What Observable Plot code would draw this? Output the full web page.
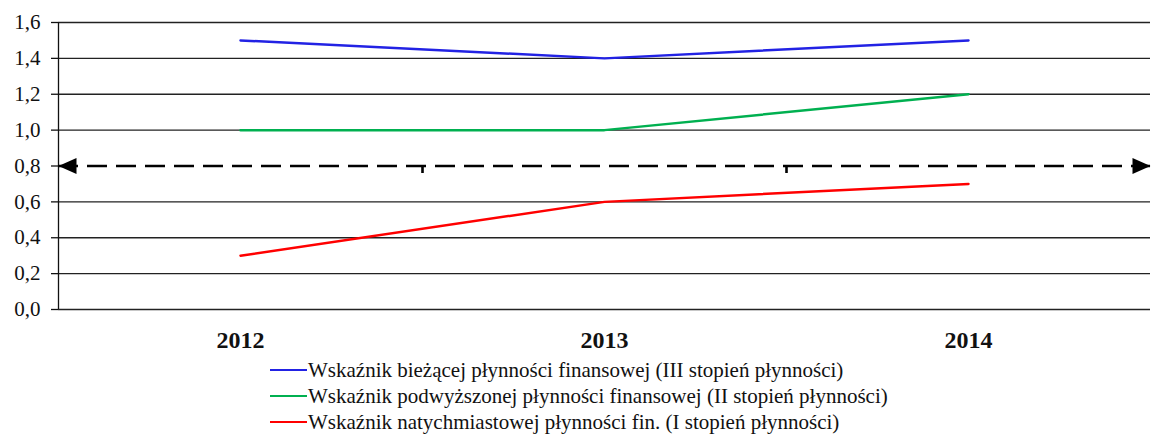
<!DOCTYPE html>
<html>
<head>
<meta charset="utf-8">
<script src="https://cdn.jsdelivr.net/npm/d3@7"></script>
<script src="https://cdn.jsdelivr.net/npm/@observablehq/plot@0.6"></script>
<style>
  html, body { margin: 0; padding: 0; background: #fff; }
  #chart svg, #chart svg text { font-family: "Liberation Serif", "Times New Roman", serif; }
  #legend { font-family: "Liberation Serif", "Times New Roman", serif; font-size: 21px; color: #111; margin-left: 270px; margin-top: 5px; }
  .row { display: flex; align-items: center; height: 26px; white-space: nowrap; }
  .sw { display: inline-block; width: 37px; height: 2.5px; margin-right: 1px; }
</style>
</head>
<body>
<div id="chart"></div>
<div id="legend"></div>
<script>
const years = [2012, 2013, 2014];
const seriesNames = [
  "Wskaźnik bieżącej płynności finansowej (III stopień płynności)",
  "Wskaźnik podwyższonej płynności finansowej (II stopień płynności)",
  "Wskaźnik natychmiastowej płynności fin. (I stopień płynności)"
];
const currentRatio = [1.5, 1.4, 1.5];
const quickRatio = [1.0, 1.0, 1.2];
const cashRatio = [0.3, 0.6, 0.7];
const seriesColors = ["#2222e4", "#00b050", "#ff0000"];
const yTicks = [0, 0.2, 0.4, 0.6, 0.8, 1.0, 1.2, 1.4, 1.6];
const threshold = [0.8];

const allSeries = [currentRatio, quickRatio, cashRatio];
const data = [];
allSeries.forEach((vals, s) => vals.forEach((v, i) => data.push({series: seriesNames[s], year: years[i], value: v})));

const xDomain = [years[0] - 0.5, years[years.length - 1] + 0.5];
const boundaries = years.slice(0, -1).map(y => y + 0.5);

const leftArrow = { draw(ctx) { ctx.moveTo(0, 0); ctx.lineTo(18, -8); ctx.lineTo(18, 8); ctx.closePath(); } };
const rightArrow = { draw(ctx) { ctx.moveTo(0, 0); ctx.lineTo(-18, -8); ctx.lineTo(-18, 8); ctx.closePath(); } };
const downTick = { draw(ctx) { ctx.moveTo(0, 0); ctx.lineTo(0, 7); } };

const serif = "'Liberation Serif', 'Times New Roman', serif";

const chart = Plot.plot({
  width: 1152,
  height: 352,
  marginLeft: 58,
  marginRight: 2,
  marginTop: 22,
  marginBottom: 43,
  style: { fontFamily: serif, background: "#fff", color: "#111" },
  x: { type: "linear", domain: xDomain },
  y: { domain: [0, 1.6] },
  color: { domain: seriesNames, range: seriesColors },
  marks: [
    Plot.ruleY(yTicks.filter(d => d !== threshold[0]), { stroke: "#222", strokeWidth: 1.3 }),
    Plot.ruleX([xDomain[0]], { stroke: "#111", strokeWidth: 1.3 }),
    Plot.axisY(yTicks, {
      tickSize: 7, tickPadding: 11, fontSize: 21, stroke: "#111", strokeWidth: 1.3,
      tickFormat: d => d.toFixed(1).replace(".", ","), label: null
    }),
    Plot.axisX(years, {
      tickSize: 0, tickPadding: 21, fontSize: 24, fontWeight: "bold",
      tickFormat: d => String(d), label: null
    }),
    Plot.ruleY(threshold, { stroke: "#000", strokeWidth: 2.6, strokeDasharray: "20,9" }),
    Plot.dot(threshold, { x: () => xDomain[0], y: d => d, symbol: leftArrow, fill: "#000", stroke: "none" }),
    Plot.dot(threshold, { x: () => xDomain[1], y: d => d, symbol: rightArrow, fill: "#000", stroke: "none" }),
    Plot.dot(boundaries, { x: d => d, y: () => threshold[0], symbol: downTick, fill: "none", stroke: "#000", strokeWidth: 2.6 }),
    Plot.line(data, { x: "year", y: "value", z: "series", stroke: "series", strokeWidth: 2.5 })
  ]
});
document.getElementById("chart").append(chart);

const legend = d3.select("#legend");
seriesNames.forEach((name, i) => {
  const row = legend.append("div").attr("class", "row");
  row.append("span").attr("class", "sw").style("background", seriesColors[i]);
  row.append("span").text(name);
});
</script>
</body>
</html>
